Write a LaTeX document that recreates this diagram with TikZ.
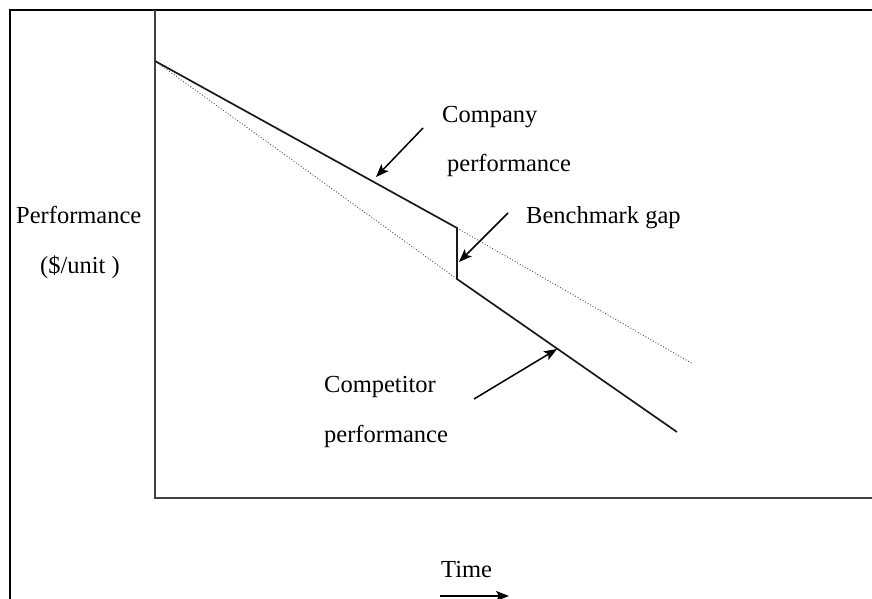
\documentclass[tikz,border=0pt]{standalone}
\usepackage{fontspec}
\setmainfont{Liberation Serif}
\usetikzlibrary{arrows.meta}
\begin{document}
\begin{tikzpicture}[x=1pt,y=-1pt,
  lbl/.style={inner sep=0pt,anchor=base west,font=\fontsize{24.5}{28}\selectfont},
  frame/.style={line width=2pt,black},
  axis/.style={line width=1.6pt,black!75},
  perf/.style={line width=1.7pt,black!90},
  trend/.style={line width=0.9pt,black!70,dotted},
  pointer/.style={line width=1.5pt,-{Stealth[length=13pt,width=10pt,inset=3pt]}}]
\useasboundingbox (0,0) rectangle (872,599);
% outer frame
\draw[frame] (872,10) -- (10,10) -- (10,599);
% axes
\coordinate (axtop) at (155,10);
\coordinate (origin) at (155,498);
\coordinate (axright) at (872,498);
\draw[axis] (axtop) -- (origin) -- (axright);
% performance curves
\coordinate (start) at (155,61);
\coordinate (gaptop) at (457,228);
\coordinate (gapbot) at (457,279);
\coordinate (compend) at (677,432);
\coordinate (trendend) at (693,364);
\draw[trend] (start) -- (gapbot);
\draw[trend] (gaptop) -- (trendend);
\draw[perf] (start) -- (gaptop) -- (gapbot) -- (compend);
% labels
\node[lbl] (company) at (442,122) {Company};
\node[lbl] (companyb) at (447,171) {performance};
\node[lbl] (gap) at (526,223) {Benchmark gap};
\node[lbl] (ylab) at (16,223) {Performance};
\node[lbl] (yunit) at (40,273) {(\$/unit )};
\node[lbl] (competitor) at (324,392) {Competitor};
\node[lbl] (competitorb) at (324,442) {performance};
\node[lbl] (time) at (441,577) {Time};
% pointers
\coordinate (p1s) at (423,128); \coordinate (p1e) at (376,177);
\coordinate (p2s) at (508,213); \coordinate (p2e) at (459,262);
\coordinate (p3s) at (474,399); \coordinate (p3e) at (557,349);
\coordinate (ts) at (440,596); \coordinate (te) at (509,596);
\draw[pointer] (p1s) -- (p1e);
\draw[pointer] (p2s) -- (p2e);
\draw[pointer] (p3s) -- (p3e);
\draw[pointer] (ts) -- (te);
\end{tikzpicture}
\end{document}
